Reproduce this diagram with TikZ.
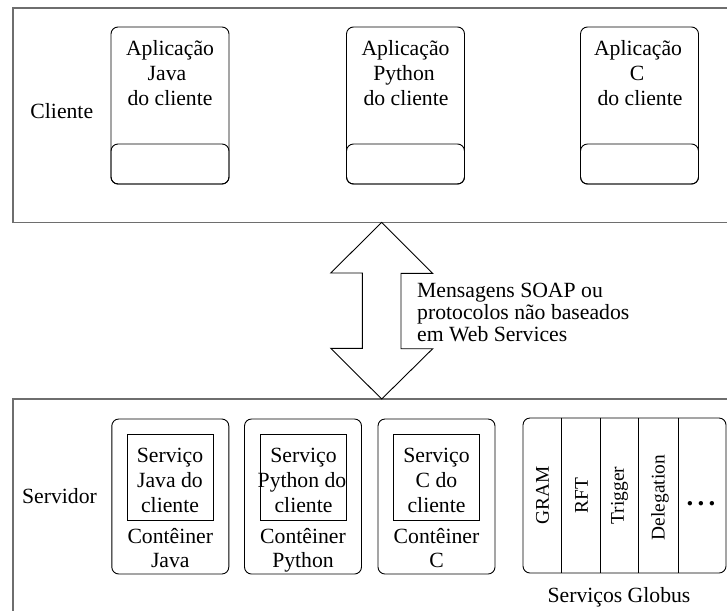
\documentclass[tikz,border=0pt]{standalone}
\usepackage{fontspec}
\setmainfont{Liberation Serif}
\definecolor{framegray}{RGB}{110,110,110}
\tikzset{
  frameline/.style={draw=framegray, line width=1.3pt},
  region/.style={inner sep=0pt, minimum width=714pt, anchor=north west},
  appbox/.style={draw, line width=0.9pt, rounded corners=7pt, inner sep=0pt,
    minimum width=118pt, minimum height=157pt},
  appfoot/.style={draw, line width=0.9pt, rounded corners=7pt, inner sep=0pt,
    minimum width=118pt, minimum height=40pt, anchor=south},
  contbox/.style={draw, line width=0.9pt, rounded corners=7pt, inner sep=0pt,
    minimum width=117pt, minimum height=155pt},
  servbox/.style={draw, line width=0.9pt, inner sep=0pt,
    minimum width=86pt, minimum height=86pt},
  txt/.style={inner sep=0pt, anchor=base, font=\fontsize{21.7}{25}\selectfont},
  txtl/.style={txt, anchor=base west},
  vtxt/.style={inner sep=0pt, rotate=90, font=\fontsize{19.4}{22}\selectfont},
  bigarrow/.style={draw, line width=0.9pt, line join=miter}
}
\begin{document}
\begin{tikzpicture}[x=1pt,y=-1pt]
\useasboundingbox (0,0) rectangle (727,611);

% client and server regions, open to the right
\node[region, minimum height=214pt] (clientframe) at (13,8) {};
\node[region, minimum height=212pt] (serverframe) at (13,399) {};
\draw[frameline] (clientframe.north east) -- (clientframe.north west)
  -- (clientframe.south west) -- (clientframe.south east);
\draw[frameline] (serverframe.north east) -- (serverframe.north west)
  -- (serverframe.south west);

\node[txt] (cliente) at (61.8,118) {Cliente};
\node[txt] (servidor) at (59.5,503) {Servidor};

% client applications
\node[appbox] (app1) at (170,105.5) {};
\node[appbox] (app2) at (405.5,105.5) {};
\node[appbox] (app3) at (639.5,105.5) {};
\node[appfoot] (app1f) at (app1.south) {};
\node[appfoot] (app2f) at (app2.south) {};
\node[appfoot] (app3f) at (app3.south) {};

\node[txt] (a1l1) at (170,55) {Aplicação};
\node[txt] (a1l2) at (167,80) {Java};
\node[txt] (a1l3) at (170,105) {do cliente};
\node[txt] (a2l1) at (405.5,55) {Aplicação};
\node[txt] (a2l2) at (404,80) {Python};
\node[txt] (a2l3) at (406,105) {do cliente};
\node[txt] (a3l1) at (638,55) {Aplicação};
\node[txt] (a3l2) at (637,80) {C};
\node[txt] (a3l3) at (640,105) {do cliente};

% double arrow between the regions
\path (clientframe.south west) ++(368.7,0) coordinate (tipU);
\path (serverframe.north west) ++(368.7,0) coordinate (tipD);
\draw[bigarrow] (tipU) -- ++(51,51) -- ++(-31.7,0) -- ++(0,75.3) -- ++(31.7,0)
  -- (tipD) -- ++(-51,-50.7) -- ++(31.7,0) -- ++(0,-75.3) -- ++(-31.7,0) -- cycle;

\node[txtl] (m1) at (417,297) {Mensagens SOAP ou};
\node[txtl] (m2) at (417,319) {protocolos não baseados};
\node[txtl] (m3) at (417,341) {em Web Services};

% service containers
\node[contbox] (c1) at (170.3,496.5) {};
\node[contbox] (c2) at (303,496.5) {};
\node[contbox] (c3) at (436.5,496.5) {};
\node[servbox] (s1) at (170,477) {};
\node[servbox] (s2) at (303.5,477) {};
\node[servbox] (s3) at (436.5,477) {};

\node[txt] (s1l1) at (170,462) {Serviço};
\node[txt] (s1l2) at (170,487) {Java do};
\node[txt] (s1l3) at (170,512) {cliente};
\node[txt] (s2l1) at (303.5,462) {Serviço};
\node[txt] (s2l2) at (302,487) {Python do};
\node[txt] (s2l3) at (303.5,512) {cliente};
\node[txt] (s3l1) at (436.5,462) {Serviço};
\node[txt] (s3l2) at (436.5,487) {C do};
\node[txt] (s3l3) at (436.5,512) {cliente};

\node[txt] (c1l1) at (170.3,543) {Contêiner};
\node[txt] (c1l2) at (170.3,567) {Java};
\node[txt] (c2l1) at (303,543) {Contêiner};
\node[txt] (c2l2) at (303,567) {Python};
\node[txt] (c3l1) at (436.5,543) {Contêiner};
\node[txt] (c3l2) at (436.5,567) {C};

% Globus services
\node[contbox, minimum width=203pt] (globus) at (624.5,495.5) {};
\foreach \dx in {39,77.5,116,156}
  \draw[line width=0.9pt] (globus.north west) ++(\dx,0) -- ++(0,155);
\node[vtxt] (gram) at (542.5,495.5) {GRAM};
\node[vtxt] (rft) at (581.5,495.5) {RFT};
\node[vtxt] (trigger) at (619.5,495.5) {Trigger};
\node[vtxt] (deleg) at (660,497.5) {Delegation};
\node[txt, font=\fontsize{27}{30}\selectfont\bfseries] (more) at (701,505)
  {.\kern4.3pt.\kern4.3pt.};
\node[txt] (globuslbl) at (619,602) {Serviços Globus};
\end{tikzpicture}
\end{document}
